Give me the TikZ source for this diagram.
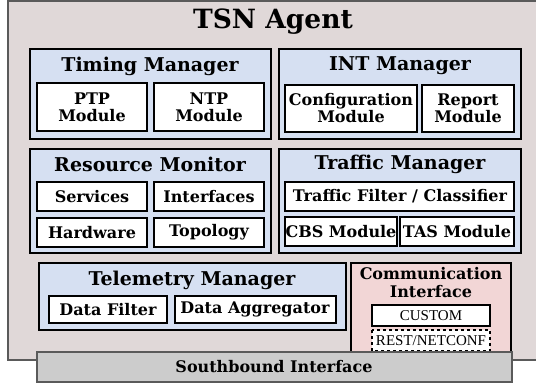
\documentclass[tikz,border=0pt]{standalone}
\usepackage{fontspec}
\setmainfont{DejaVu Serif}
\newfontfamily\plainserif{Liberation Serif}
\begin{document}
\begin{tikzpicture}[x=1pt,y=-1pt,
  agentbg/.style={fill=agentfill,draw=agentline,line width=1.2pt},
  manager/.style={fill=mgrfill,draw=black,line width=2pt},
  commbox/.style={fill=commfill,draw=black,line width=2pt},
  module/.style={fill=white,draw=black,line width=1.5pt},
  sbox/.style={fill=white,draw=black,line width=1.2pt},
  mgrtitle/.style={font=\bfseries\fontsize{19}{20}\selectfont,inner sep=0pt},
  modtext/.style={font=\bfseries\fontsize{16}{17}\selectfont,align=center,inner sep=0pt},
  plaintext/.style={font=\plainserif\fontsize{15}{15}\selectfont,inner sep=0pt}
]
\definecolor{agentfill}{RGB}{224,216,216}
\definecolor{agentline}{RGB}{90,90,90}
\definecolor{mgrfill}{RGB}{214,224,242}
\definecolor{commfill}{RGB}{242,214,214}
\definecolor{southfill}{RGB}{204,204,204}

\useasboundingbox (0,0) rectangle (536,383);
\fill[white] (0,0) rectangle (536,383);

% agent container
\draw[agentbg] (8,1) rectangle (545,360);
\node[font=\bfseries\fontsize{26.5}{27}\selectfont,inner sep=0pt] (title) at (273,22) {TSN Agent};

% Timing Manager
\draw[manager] (30,49) rectangle (271,139);
\node[mgrtitle] (timing) at (150,66) {Timing Manager};
\draw[module] (37,83) rectangle (147,131);
\node[modtext] (ptp) at (92,107) {PTP\\Module};
\draw[module] (154,83) rectangle (264,131);
\node[modtext] (ntp) at (209,107) {NTP\\Module};

% INT Manager
\draw[manager] (279,49) rectangle (521,139);
\node[mgrtitle] (int) at (400,66) {INT Manager};
\draw[module] (285,85) rectangle (417,132);
\node[modtext] (conf) at (351,108) {Configuration\\Module};
\draw[module] (422,85) rectangle (514,132);
\node[modtext] (report) at (468,108) {Report\\Module};

% Resource Monitor
\draw[manager] (30,149) rectangle (271,253);
\node[mgrtitle] (resource) at (150,164) {Resource Monitor};
\draw[module] (37,182) rectangle (147,211);
\node[modtext] (services) at (92,197) {Services};
\draw[module] (154,182) rectangle (264,211);
\node[modtext] (interfaces) at (209,197) {Interfaces};
\draw[module] (37,218) rectangle (147,247);
\node[modtext] (hardware) at (92,233) {Hardware};
\draw[module] (154,218) rectangle (264,247);
\node[modtext] (topology) at (209,232) {Topology};

% Traffic Manager
\draw[manager] (279,149) rectangle (521,253);
\node[mgrtitle] (traffic) at (400,164) {Traffic Manager};
\draw[module] (285,182) rectangle (514,211);
\node[modtext] (filter) at (400,196) {Traffic Filter / Classifier};
\draw[module] (285,217) rectangle (397,246);
\node[modtext] (cbs) at (341,232) {CBS Module};
\draw[module] (400,217) rectangle (514,246);
\node[modtext] (tas) at (457,232) {TAS Module};

% Telemetry Manager
\draw[manager] (39,263) rectangle (346,330);
\node[mgrtitle] (telemetry) at (192,280) {Telemetry Manager};
\draw[module] (49,296) rectangle (167,323);
\node[modtext] (datafilter) at (108,310) {Data Filter};
\draw[module] (175,296) rectangle (336,323);
\node[modtext] (aggregator) at (255,309) {Data Aggregator};

% Communication Interface
\draw[commbox] (351,263) rectangle (511,356);
\node[font=\bfseries\fontsize{16}{18}\selectfont,align=center,inner sep=0pt] (comm) at (431,283) {Communication\\Interface};
\draw[sbox] (372,305) rectangle (490,326);
\node[plaintext] (custom) at (431,316) {CUSTOM};
\draw[sbox,dashed] (372,330) rectangle (490,351);
\node[plaintext] (rest) at (431,341) {REST/NETCONF};

% Southbound Interface
\draw[fill=southfill,draw=agentline,line width=1.2pt] (37,352) rectangle (512,382);
\node[modtext] (south) at (274,367) {Southbound Interface};
\end{tikzpicture}
\end{document}
